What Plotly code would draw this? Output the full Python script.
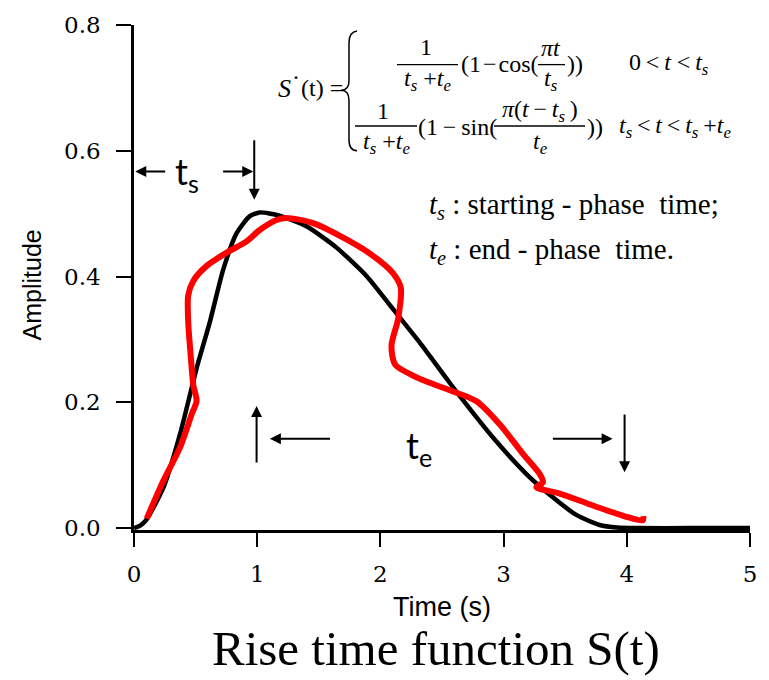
import plotly.graph_objects as go

# ---------------- data ----------------
black_t = [0.0, 0.05, 0.10, 0.24, 0.373, 0.508, 0.616, 0.724, 0.833, 0.94, 1.02,
           1.18, 1.40, 1.644, 1.887, 2.10, 2.32, 2.536, 2.617, 2.914, 3.185,
           3.40, 3.59, 3.78, 3.92, 4.1, 4.5, 5.0]
black_a = [0.0, 0.004, 0.013, 0.065, 0.149, 0.254, 0.328, 0.411, 0.469, 0.496, 0.502,
           0.497, 0.480, 0.446, 0.401, 0.349, 0.295, 0.238, 0.217, 0.144, 0.086,
           0.049, 0.021, 0.005, 0.001, 0.0, 0.0, 0.0]

red_t = [0.103, 0.24, 0.373, 0.468, 0.508, 0.481, 0.46, 0.44, 0.44, 0.481, 0.59,
         0.752, 0.914, 1.02, 1.157, 1.238, 1.454, 1.725, 1.94, 2.10, 2.165, 2.144,
         2.09, 2.12, 2.26, 2.374, 2.58, 2.78, 2.968, 3.157, 3.293, 3.32, 3.266,
         3.455, 3.725, 3.996, 4.13, 4.135]
red_a = [0.015, 0.076, 0.128, 0.181, 0.202, 0.228, 0.275, 0.328, 0.370, 0.393, 0.417,
         0.438, 0.456, 0.474, 0.490, 0.493, 0.485, 0.459, 0.433, 0.406, 0.383, 0.333,
         0.290, 0.260, 0.243, 0.233, 0.218, 0.2016, 0.165, 0.118, 0.086, 0.073, 0.065,
         0.055, 0.036, 0.018, 0.0126, 0.019]

x_tickvals = [0, 1, 2, 3, 4, 5]
x_ticktext = ["0", "1", "2", "3", "4", "5"]
y_tickvals = [0.0, 0.2, 0.4, 0.6, 0.8]
y_ticktext = ["0.0", "0.2", "0.4", "0.6", "0.8"]

x_title = "Time (s)"
y_title = "Amplitude"
main_title = "Rise time function S(t)"

# ---------------- figure ----------------
fig = go.Figure()
fig.add_trace(go.Scatter(x=black_t, y=black_a, mode="lines",
                         line=dict(color="black", width=4.5, shape="spline", smoothing=0.6),
                         showlegend=False, hoverinfo="skip"))
fig.add_trace(go.Scatter(x=red_t, y=red_a, mode="lines",
                         line=dict(color="#ff0000", width=6, shape="spline", smoothing=0.8),
                         showlegend=False, hoverinfo="skip"))

L, R, TOP, BOT = 134, 750, 20, 530
def P(xp, yp):
    return (xp - L) / (R - L), (BOT - yp) / (BOT - TOP)

anns = []
shapes = []
SERIF = "Liberation Serif"

def T(xp, yp, text, size=24, family=SERIF, xanchor="center", angle=0):
    x, y = P(xp, yp)
    anns.append(dict(x=x, y=y, xref="paper", yref="paper", text=text, showarrow=False,
                     xanchor=xanchor, yanchor="middle", textangle=angle,
                     font=dict(size=size, family=family, color="black")))

def bar(x0, x1, yp, w=1.3):
    a0, b0 = P(x0, yp)
    a1, b1 = P(x1, yp)
    shapes.append(dict(type="line", xref="paper", yref="paper", x0=a0, y0=b0, x1=a1, y1=b1,
                       line=dict(color="black", width=w)))

def arrow(xh, yh, xt, yt):
    anns.append(dict(x=xh, y=yh, ax=xt, ay=yt, xref="x", yref="y", axref="x", ayref="y",
                     text="", showarrow=True, arrowhead=2, arrowsize=1.1, arrowwidth=2,
                     arrowcolor="black", standoff=0, startstandoff=0))

# axis titles and caption
T(32, 283, y_title, size=25, family="Liberation Sans", angle=-90)
T(442, 608, x_title, size=27, family="Liberation Sans")
T(436, 650, main_title, size=49, family=SERIF)

# arrows and t_s / t_e labels
arrow(0.01, 0.567, 0.265, 0.567)
arrow(0.968, 0.567, 0.711, 0.567)
arrow(0.976, 0.522, 0.976, 0.619)
arrow(0.995, 0.194, 0.995, 0.102)
arrow(1.103, 0.142, 1.603, 0.142)
arrow(3.885, 0.142, 3.388, 0.142)
arrow(3.982, 0.089, 3.982, 0.183)
T(187, 170, "t<sub>s</sub>", size=36, family="Lato")
T(419, 447, "t<sub>e</sub>", size=36, family="Lato")

# equation
it = lambda s: "<i>" + s + "</i>"
ts = it("t") + "<sub>" + it("s") + "</sub>"
te = it("t") + "<sub>" + it("e") + "</sub>"
T(284, 84, it("S"), size=26)
T(296, 73, "·", size=24)
T(299, 84, "(t) =", xanchor="left")
# brace
pts = [(357, 26), (349, 27), (349, 38), (349, 76), (349, 86), (341, 86), (349, 86), (349, 96),
       (349, 136), (349, 147), (357, 147)]
pp = [P(x, y) for x, y in pts]
path = "M {},{} Q {},{} {},{} L {},{} Q {},{} {},{} Q {},{} {},{} L {},{} Q {},{} {},{}".format(
    *[c for p in pp for c in p])
shapes.append(dict(type="path", xref="paper", yref="paper", path=path,
                   line=dict(color="black", width=1.5)))
# row 1
T(426, 42, "1")
bar(397, 458, 60)
T(427, 76, ts + " +" + te)
T(459, 59, "(1\u200a\u2212\u200acos(", xanchor="left")
T(551, 43, it("\u03c0t"))
bar(538, 565, 60)
T(551, 76, ts)
T(565, 59, "))", xanchor="left")
T(627, 59, "0\u2009<\u2009" + it("t") + "\u00a0<\u2009" + ts, xanchor="left")
# row 2
T(383, 107, "1")
bar(355, 417, 122)
T(386, 139, ts + " +" + te)
T(416, 123, "(1\u2009\u2212\u2009sin(", xanchor="left")
T(540, 107, it("\u03c0") + "(" + it("t") + "\u2009\u2212\u2009" + ts + "\u2009)")
bar(494, 585, 122)
T(540, 139, te)
T(585, 123, "))", xanchor="left")
T(617, 123, ts + "\u2009<\u2009" + it("t") + "\u2009<\u2009" + ts + "\u2009+" + te, xanchor="left")

# legend text
T(427, 203, ts + " : starting - phase\u00a0 time;", size=29, xanchor="left")
T(427, 248, te + " : end - phase\u00a0 time.", size=29, xanchor="left")

axis_common = dict(showline=True, linecolor="black", linewidth=2.5, ticks="outside",
                   tickcolor="black", tickwidth=2, showgrid=False, zeroline=False,
                   tickfont=dict(family="DejaVu Serif", size=23, color="black"))
fig.update_xaxes(range=[0, 5], tickvals=x_tickvals, ticktext=x_ticktext, ticklen=14,
                 ticklabelstandoff=8, **axis_common)
fig.update_yaxes(range=[-0.003, 0.8], tickvals=y_tickvals, ticktext=y_ticktext, ticklen=15,
                 ticklabelstandoff=11, **axis_common)

fig.update_layout(width=769, height=680, margin=dict(l=L, r=769 - R, t=TOP, b=680 - BOT),
                  paper_bgcolor="white", plot_bgcolor="white", annotations=anns,
                  shapes=shapes, showlegend=False)

fig.write_html("out.html", config={"displayModeBar": False},
               post_script="document.body.style.margin='0px';")
